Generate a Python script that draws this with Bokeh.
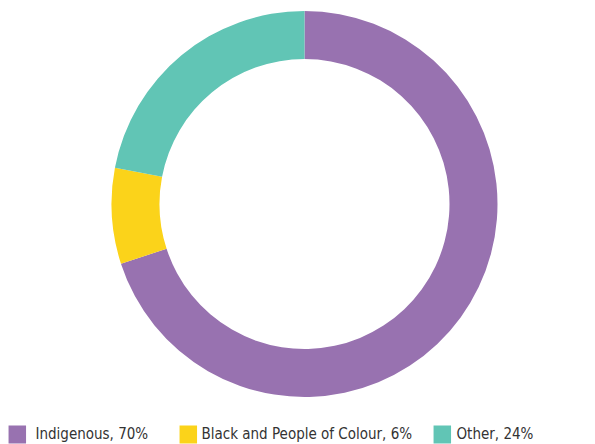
import numpy as np
from bokeh.plotting import figure
from bokeh.models import ColumnDataSource
from bokeh.core.properties import value
from bokeh.embed import file_html
from bokeh.resources import INLINE

# ---- data ----
categories = ["Indigenous", "Black and People of Colour", "Other"]
shares = [70, 8, 22]  # slice sizes as drawn
legend_labels = ["Indigenous, 70%", "Black and People of Colour, 6%", "Other, 24%"]
colors = ["#9872b0", "#fbd31a", "#61c5b5"]

W, H = 595, 444
p = figure(width=W, height=H, output_backend="svg", toolbar_location=None,
           x_range=(0, W), y_range=(0, H), min_border=0,
           outline_line_color=None, background_fill_color="white")
p.axis.visible = False
p.grid.visible = False

vals = np.array(shares, dtype=float)
frac = vals / vals.sum()
cum = np.concatenate([[0], np.cumsum(frac)])
start = np.pi / 2 - 2 * np.pi * cum[:-1]
end = np.pi / 2 - 2 * np.pi * cum[1:]

src = ColumnDataSource(dict(start=start, end=end, color=colors, cat=categories))
cx, cy = 304, 240.5
p.annular_wedge(x=cx, y=cy, inner_radius=145, outer_radius=193,
                start_angle="start", end_angle="end", direction="clock",
                fill_color="color", line_color=None, source=src)

# legend
sw_x = [8, 179, 433]
tx_x = [35, 201, 456]
leg = ColumnDataSource(dict(x=[x + 8.8 for x in sw_x], tx=tx_x, color=colors, label=legend_labels))
p.rect(x="x", y=10, width=17.5, height=18, fill_color="color", line_color=None, source=leg)
p.text(x="tx", y=2, text="label", source=leg, text_font=value("DejaVu Sans Condensed"),
       text_font_size="15px", text_color="#333333", text_baseline="bottom")

open("out.html", "w").write(file_html(p, INLINE))
